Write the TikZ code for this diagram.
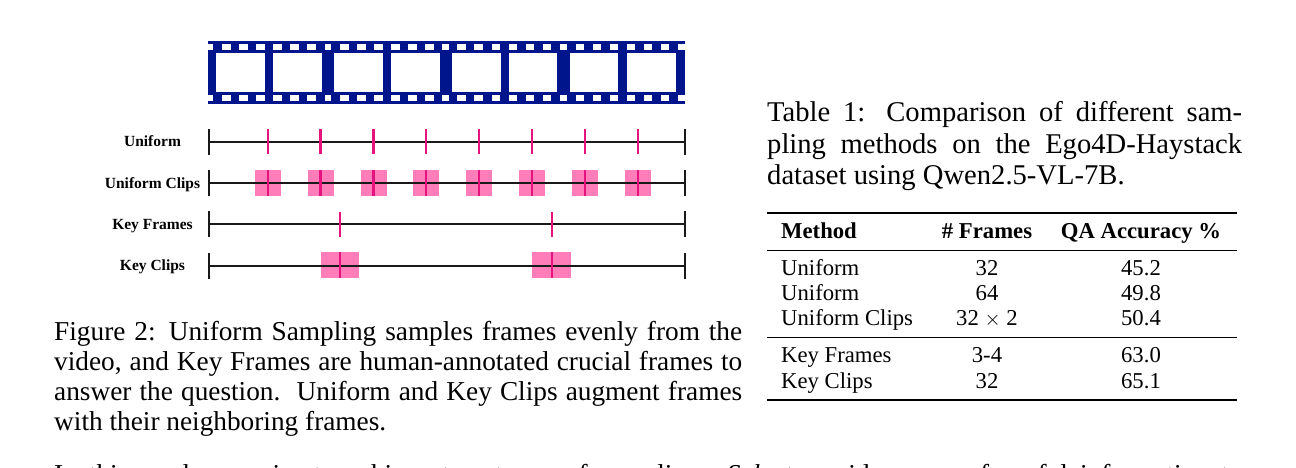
\documentclass[tikz,border=0pt]{standalone}
\usepackage{fontspec}
\setmainfont{Liberation Serif}
\definecolor{filmblue}{HTML}{00148C}
\definecolor{clipbox}{HTML}{FF7DB8}
\definecolor{tickpink}{HTML}{E6127E}
\tikzset{
  lane/.style={draw=black!90,line width=1.2pt},
  endtick/.style={draw=black!90,line width=1.2pt},
  hit/.style={draw=tickpink,line width=2.4pt},
  clipfill/.style={fill=clipbox,draw=none},
  lanelabel/.style={font=\bfseries\fontsize{15.5}{18}\selectfont,anchor=base,inner sep=0pt},
  captext/.style={font=\fontsize{27.3}{30}\selectfont,anchor=base west,inner sep=0pt},
  tabcap/.style={font=\fontsize{28.6}{32}\selectfont,anchor=base west,inner sep=0pt},
  tab/.style={font=\fontsize{22.7}{25}\selectfont,anchor=base,inner sep=0pt},
  tabl/.style={font=\fontsize{22.7}{25}\selectfont,anchor=base west,inner sep=0pt},
  hole/.style={fill=white,draw=none},
  heavy/.style={draw=black,line width=2pt},
  lightrule/.style={draw=black,line width=1pt}
}
\begin{document}
\begin{tikzpicture}[x=1pt,y=-1pt]
\useasboundingbox (0,0) rectangle (1296,468);
\clip (0,0) rectangle (1296,468);
\fill[white] (0,0) rectangle (1296,468);
% film strip
\fill[filmblue] (207.7,41.5) rectangle (684.5,104.5);
\foreach \a/\b in {216/265,273.3/322,334.3/383,391.3/440,452/500.7,509/557.3,570/618.3,627.3/675.7}
  \fill[hole] (\a,52.7) rectangle (\b,92.3);
\foreach \a/\b in {207.7/213.3,222/230.7,239/247.7,256/264.7,273.3/282,290.3/299,307.3/316,324.7/331.3,340/348.7,357/365.7,374/382.7,391.3/400,408.3/417,425.3/434,442.3/449,457.3/466,474.3/483,491.5/500,509/517.3,526/534.3,543/551.3,560/567.3,575.7/584,592.7/601,609.7/618,626.7/635,643.7/652,660.7/669,677.7/684.5}
  {\fill[hole] (\a,44) rectangle (\b,50);
   \fill[hole] (\a,95) rectangle (\b,101.5);}
% clip boxes
\foreach \c in {268,320.5,373.5,426.2,479,532,585,638}
  \fill[clipfill] (\c-13,169.7) rectangle (\c+13,195.5);
\fill[clipfill] (320.7,252) rectangle (359.3,277.7);
\fill[clipfill] (532.3,252) rectangle (571,277.7);
% lanes
\foreach \n/\y in {a/142,b/183,c/224,d/266}{
  \coordinate (\n l) at (209,\y);
  \coordinate (\n r) at (685,\y);
  \coordinate (\n lt) at (209,\y-13);
  \coordinate (\n lb) at (209,\y+13);
  \coordinate (\n rt) at (685,\y-13);
  \coordinate (\n rb) at (685,\y+13);
  \draw[lane] (\n l) -- (\n r);
  \draw[endtick] (\n lt) -- (\n lb);
  \draw[endtick] (\n rt) -- (\n rb);
}
\foreach \c in {268,320.5,373.5,426.2,479,532,585,638}{
  \draw[hit] (\c,129) -- (\c,154);
  \draw[hit] (\c,170) -- (\c,195.5);
}
\foreach \c in {340,551.7}{
  \draw[hit] (\c,211.5) -- (\c,236.5);
  \draw[hit] (\c,252) -- (\c,277.7);
}
% lane labels
\node[lanelabel] (lu) at (152.5,146.5) {Uniform};
\node[lanelabel] (luc) at (152.5,188) {Uniform Clips};
\node[lanelabel] (lkf) at (152.5,229) {Key Frames};
\node[lanelabel] (lkc) at (152.5,270) {Key Clips};
% figure caption
\node[captext] (f1) at (54,340) {\makebox[688pt][s]{Figure 2: Uniform Sampling samples frames evenly from the}};
\node[captext] (f2) at (54,370) {\makebox[688pt][s]{video, and Key Frames are human-annotated crucial frames to}};
\node[captext] (f3) at (54,400) {\makebox[688pt][s]{answer the question.\ \ Uniform and Key Clips augment frames}};
\node[captext] (f4) at (54,430) {with their neighboring frames.};
% table caption
\node[tabcap] (t1) at (767,121.7) {\makebox[475pt][s]{Table 1: Comparison of different sam-}};
\node[tabcap] (t2) at (767,153.3) {\makebox[475pt][s]{pling methods on the Ego4D-Haystack}};
\node[tabcap] (t3) at (767,185) {dataset using Qwen2.5-VL-7B.};
% table rules
\coordinate (r1l) at (767,213); \coordinate (r1r) at (1237,213);
\coordinate (r2l) at (767,250); \coordinate (r2r) at (1237,250);
\coordinate (r3l) at (767,337.7); \coordinate (r3r) at (1237,337.7);
\coordinate (r4l) at (767,400); \coordinate (r4r) at (1237,400);
\draw[heavy] (r1l) -- (r1r);
\draw[lightrule] (r2l) -- (r2r);
\draw[lightrule] (r3l) -- (r3r);
\draw[heavy] (r4l) -- (r4r);
% table header
\node[tabl] (h1) at (781,238.3) {\bfseries Method};
\node[tab] (h2) at (987,238.3) {\bfseries \# Frames};
\node[tab] (h3) at (1141,238.3) {\bfseries QA Accuracy \%};
% rows
\foreach \i/\y/\m/\f/\q in {1/275.7/Uniform/32/45.2,2/300.7/Uniform/64/49.8,3/325.7/Uniform Clips/{32 $\times$ 2}/50.4,4/362.4/Key Frames/3-4/63.0,5/388.4/Key Clips/32/65.1}{
  \node[tabl] (m\i) at (781,\y) {\m};
  \node[tab] (n\i) at (987,\y) {\f};
  \node[tab] (q\i) at (1141,\y) {\q};
}
% cropped body line
\node[captext] (body) at (54,483) {\makebox[1188pt][s]{In this work, we aim to achieve two types of sampling: \textit{Select} a wide range of useful information to}};
\end{tikzpicture}
\end{document}
